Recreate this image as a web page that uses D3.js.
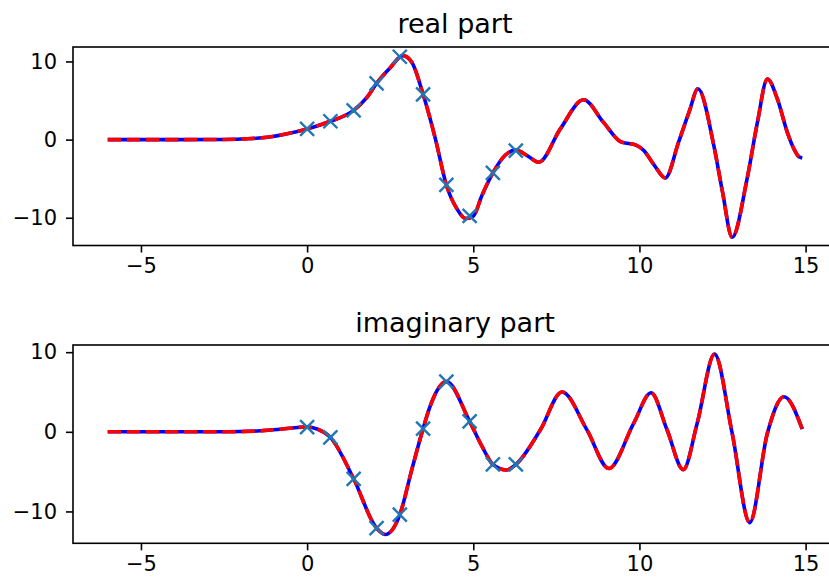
<!DOCTYPE html>
<html>
<head>
<meta charset="utf-8">
<script src="https://cdn.jsdelivr.net/npm/d3@7"></script>
<style>
  body { margin: 0; background: #fff; }
  text { font-family: "DejaVu Sans", sans-serif; fill: #000; }
</style>
</head>
<body>
<div class="chart"></div>
<script>
// Step 1: data
const xTicks = [-5, 0, 5, 10, 15];
const yTicks = [-10, 0, 10];

// real part curve
const realX = [-6, -4, -2.5, -1.8, -1.2, -0.6, 0, 0.7, 1.4, 1.8, 2.09, 2.5, 2.88, 3.15, 3.49, 3.86, 4.19, 4.5, 4.78, 5.0, 5.26, 5.59, 5.96, 6.28, 6.62, 6.97, 7.62, 8.32, 8.92, 9.43, 9.63, 9.88, 10.13, 10.45, 10.78, 11.18, 11.5, 11.76, 12.24, 12.5, 12.79, 13.24, 13.55, 13.85, 14.15, 14.45, 14.65, 14.8, 14.9];
const realY = [0, 0, 0.02, 0.1, 0.3, 0.75, 1.37, 2.35, 3.75, 5.4, 7.2, 9.2, 10.75, 9.9, 5.8, 0.1, -5.8, -8.8, -10.1, -9.8, -7.15, -4.25, -2.0, -1.35, -2.04, -2.9, 1.37, 5.1, 2.2, -0.25, -0.47, -0.68, -1.4, -3.3, -4.9, -0.3, 3.6, 6.5, -0.8, -6.7, -12.5, -5.0, 2.2, 7.75, 5.2, 0.93, -1.2, -2.2, -2.35];

// imaginary part curve
const imagX = [-6, -4, -2.5, -1.5, -0.8, 0, 0.3, 0.7, 1.4, 2.09, 2.35, 2.79, 3.15, 3.49, 3.7, 4.19, 4.89, 5.26, 5.59, 5.99, 6.28, 7.02, 7.67, 8.42, 9.08, 9.83, 10.35, 10.83, 11.32, 11.74, 12.26, 12.79, 13.32, 13.85, 14.35, 14.9];
const imagY = [0, 0, 0, 0.1, 0.33, 0.6, 0.35, -0.7, -5.9, -12.1, -12.9, -10.4, -4.75, 0.4, 3.2, 6.3, 1.3, -1.8, -4.1, -4.8, -4.1, 0.25, 5.0, 0.25, -4.6, 1.1, 4.9, 0.25, -4.75, 1.1, 9.75, -0.17, -11.4, -0.17, 4.4, 0.33];

// sample points (x markers)
const sampleX = [0, 0.7, 1.4, 2.09, 2.79, 3.49, 4.19, 4.89, 5.59, 6.28];
const sampleReal = [1.37, 2.35, 3.75, 7.2, 10.6, 5.8, -5.8, -9.75, -4.25, -1.4];
const sampleImag = [0.6, -0.7, -5.9, -12.1, -10.4, 0.4, 6.3, 1.3, -4.1, -4.1];

// Step 2: set up the svg
const svgWidth = 829;
const svgHeight = 580;

const svg = d3.select(".chart")
    .append("svg")
    .attr("width", svgWidth)
    .attr("height", svgHeight);

const xScale = d3.scaleLinear()
    .domain([-7.045, 15.945])
    .range([73, 837]);

// Step 3: one function draws one subplot
function drawPanel(opts) {
    const yScale = d3.scaleLinear()
        .domain(opts.yDomain)
        .range([opts.bottom, opts.top]);

    const g = svg.append("g");

    const line = d3.line()
        .x(d => xScale(d[0]))
        .y(d => yScale(d[1]))
        .curve(d3.curveMonotoneX);

    const pts = d3.zip(opts.xs, opts.ys);

    // blue solid underneath
    g.append("path")
        .attr("d", line(pts))
        .attr("fill", "none")
        .attr("stroke", "#0000ff")
        .attr("stroke-width", 3.6);

    // red dashed on top
    g.append("path")
        .attr("d", line(pts))
        .attr("fill", "none")
        .attr("stroke", "#ff0000")
        .attr("stroke-width", 3.6)
        .attr("stroke-dasharray", "13.3,5.8");

    // x markers
    const m = 7;
    g.selectAll("path.mark")
        .data(d3.zip(sampleX, opts.samples))
        .enter()
        .append("path")
        .attr("class", "mark")
        .attr("transform", d => `translate(${xScale(d[0])},${yScale(d[1])})`)
        .attr("d", `M${-m},${-m}L${m},${m}M${-m},${m}L${m},${-m}`)
        .attr("stroke", "#1f77b4")
        .attr("stroke-width", 2.4)
        .attr("fill", "none");

    // axes
    const bottomAxis = d3.axisBottom(xScale)
        .tickValues(xTicks)
        .tickSize(7)
        .tickPadding(6)
        .tickSizeOuter(0);
    const leftAxis = d3.axisLeft(yScale)
        .tickValues(yTicks)
        .tickSize(7)
        .tickPadding(9)
        .tickSizeOuter(0);

    const xa = g.append("g")
        .attr("transform", `translate(0,${opts.bottom})`)
        .call(bottomAxis);
    const ya = g.append("g")
        .attr("transform", "translate(73,0)")
        .call(leftAxis);

    [xa, ya].forEach(a => {
        a.select(".domain").remove();
        a.selectAll("line").attr("stroke", "#000").attr("stroke-width", 1.6);
        a.selectAll("text")
            .attr("font-family", "DejaVu Sans")
            .attr("font-size", 21)
            .attr("fill", "#000");
    });

    // frame
    g.append("rect")
        .attr("x", 73)
        .attr("y", opts.top)
        .attr("width", 837 - 73)
        .attr("height", opts.bottom - opts.top)
        .attr("fill", "none")
        .attr("stroke", "#000")
        .attr("stroke-width", 1.6);

    // title
    g.append("text")
        .attr("x", 455)
        .attr("y", opts.titleY)
        .attr("text-anchor", "middle")
        .attr("font-size", 27)
        .text(opts.title);
}

drawPanel({
    xs: realX, ys: realY, samples: sampleReal,
    yDomain: [-13.55, 11.85], top: 47, bottom: 245.5,
    title: "real part", titleY: 33
});

drawPanel({
    xs: imagX, ys: imagY, samples: sampleImag,
    yDomain: [-14.0, 10.9], top: 345, bottom: 543.3,
    title: "imaginary part", titleY: 332
});
</script>
</body>
</html>
